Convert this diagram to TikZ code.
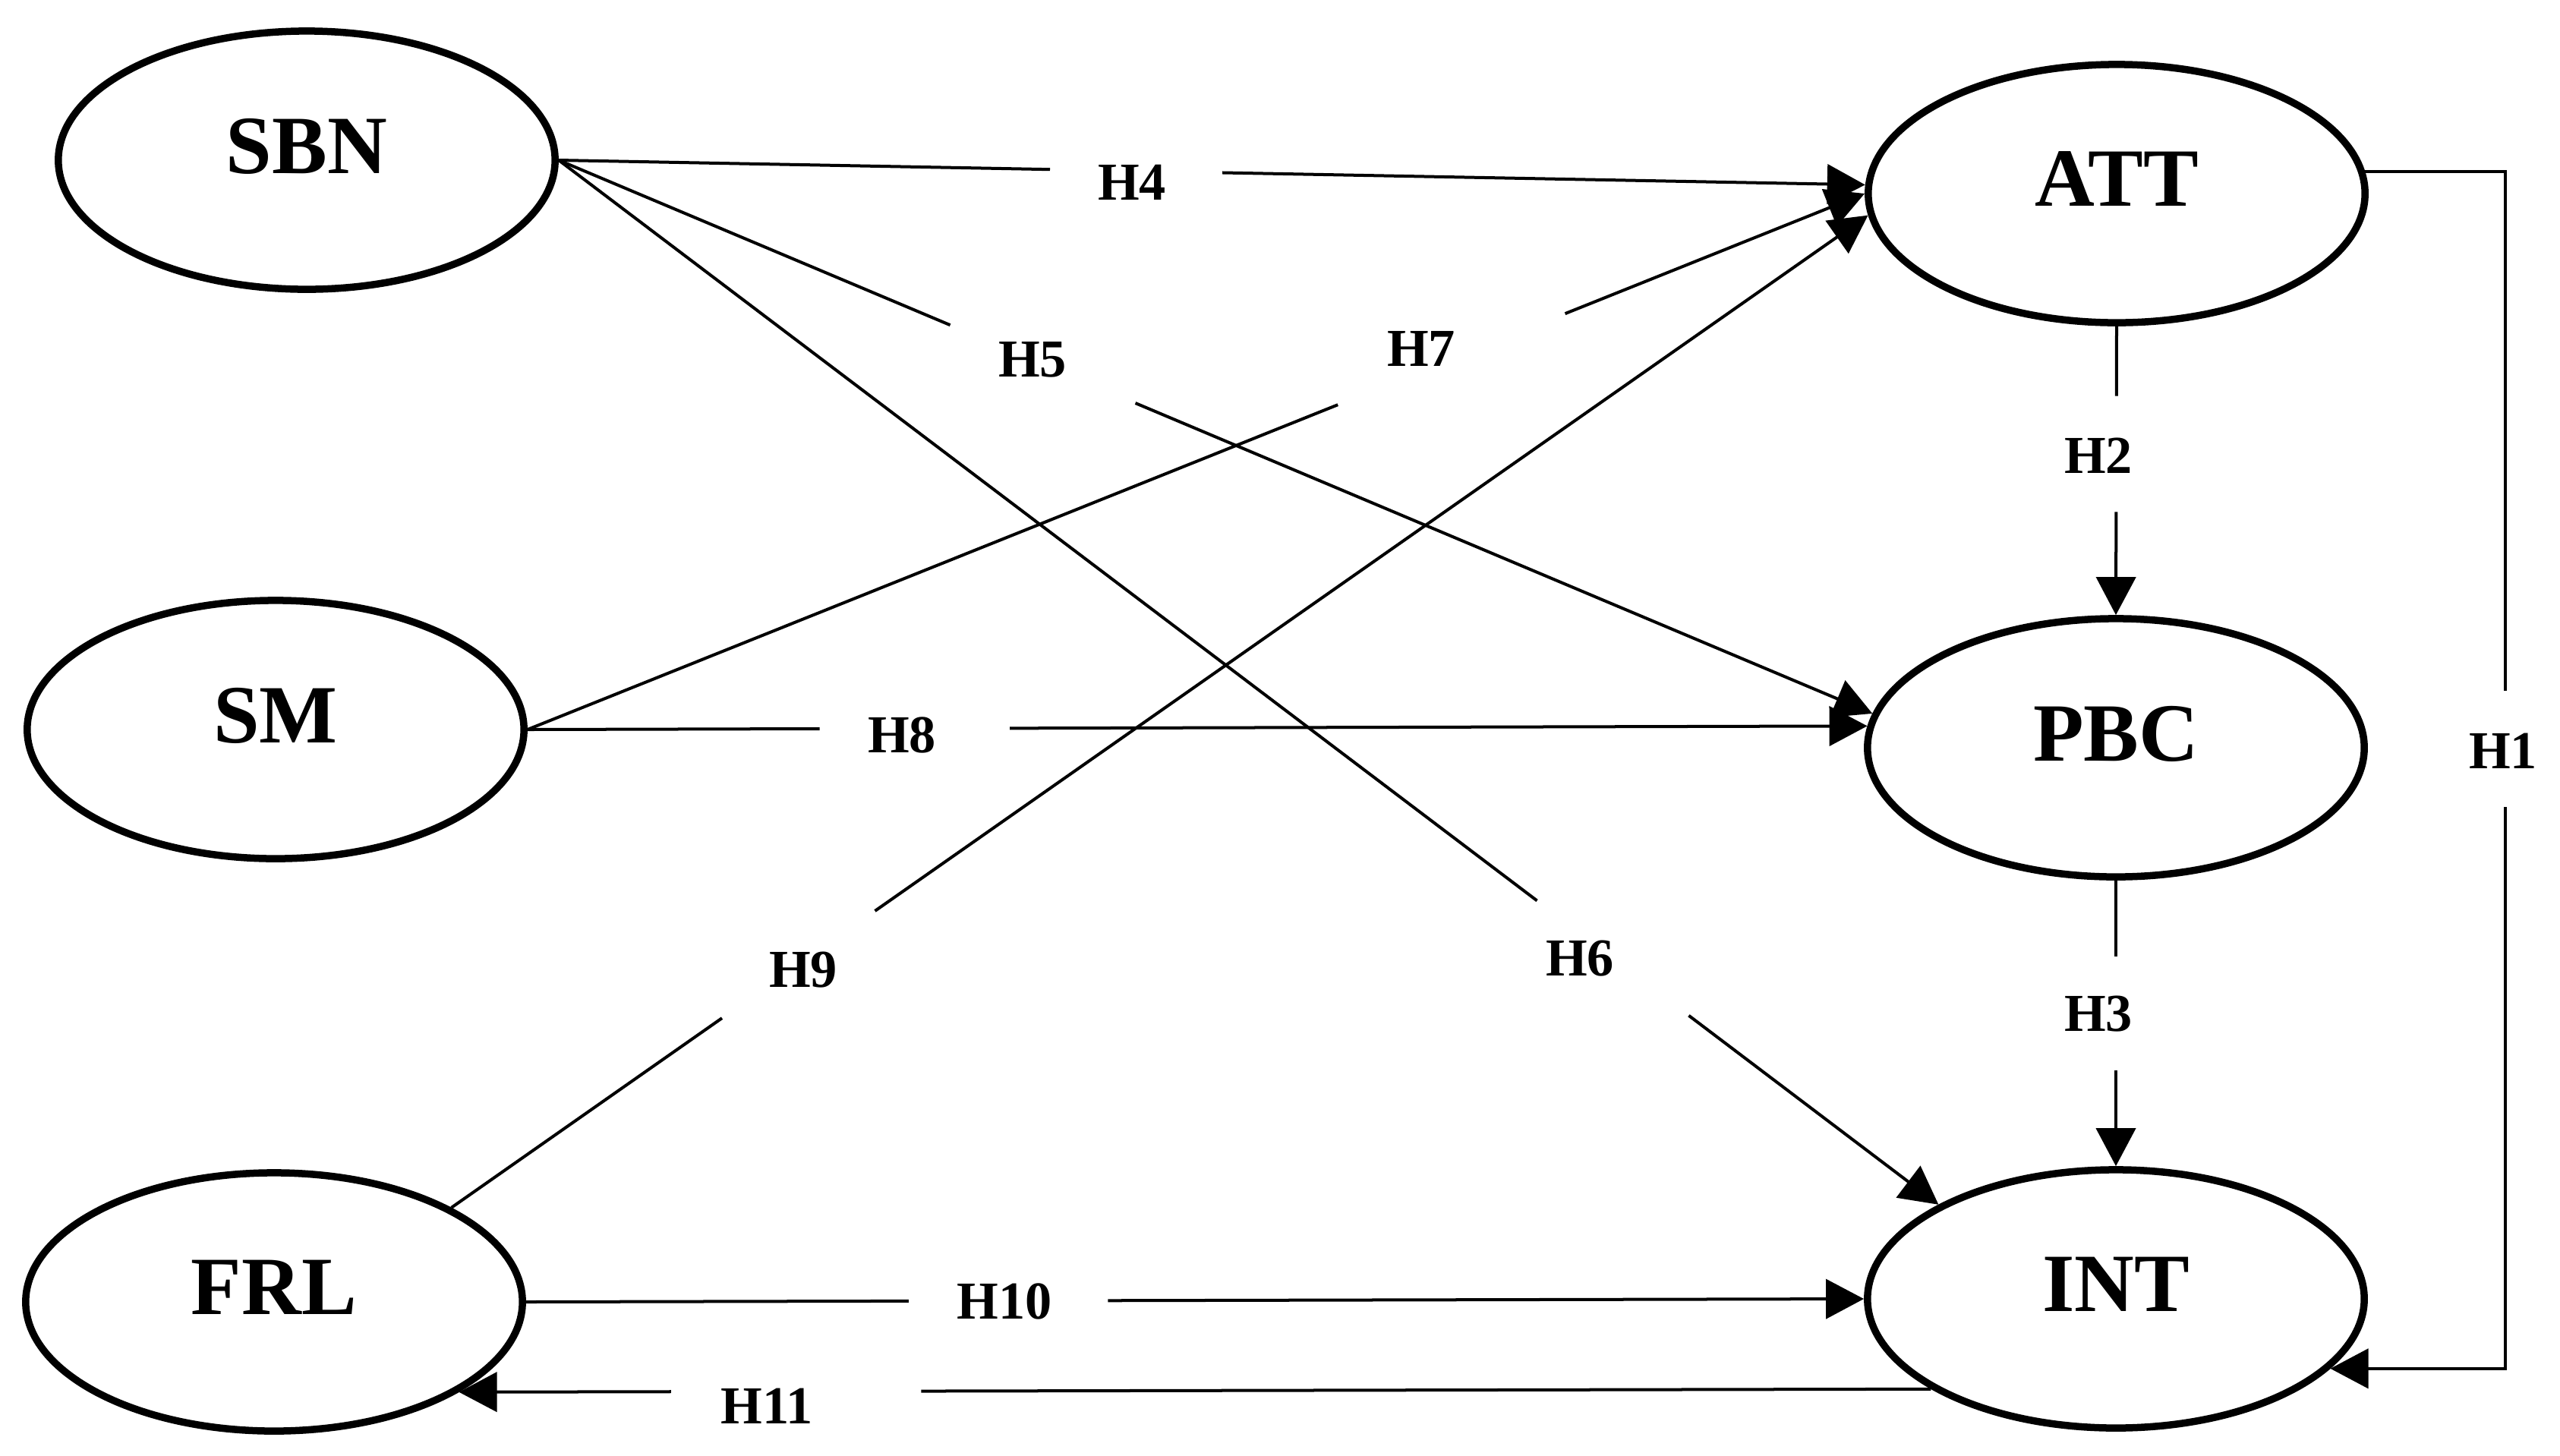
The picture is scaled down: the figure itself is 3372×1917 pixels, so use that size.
\documentclass[tikz,border=0pt]{standalone}
\usepackage{fontspec}
\setmainfont{Liberation Serif}
\usetikzlibrary{arrows.meta,shapes.geometric}
\begin{document}
\begin{tikzpicture}[x=0.01cm,y=-0.01cm,
  latent/.style={draw,ellipse,line width=0.095cm,minimum width=6.54cm,minimum height=3.40cm,inner sep=0pt,text depth=0.38cm,font=\fontsize{31}{31}\selectfont\bfseries},
  hyp/.style={inner sep=0pt,font=\fontsize{20}{20}\selectfont\bfseries},
  link/.style={line width=0.04cm},
  arr/.style={link,-{Triangle[length=0.5cm,width=0.52cm]}}]
\fill[white] (0,0) rectangle (3372,1917);
\useasboundingbox (0,0) rectangle (3372,1917);

% constructs
\node[latent] (SBN) at (404,211) {SBN};
\node[latent] (SM)  at (363,961) {SM};
\node[latent] (FRL) at (361,1715) {FRL};
\node[latent] (ATT) at (2788,255) {ATT};
\node[latent] (PBC) at (2787,985) {PBC};
\node[latent] (INT) at (2787,1711) {INT};

% hypothesis labels
\node[hyp] (L1)  at (3297,989)  {H1};
\node[hyp] (L2)  at (2764,600)  {H2};
\node[hyp] (L3)  at (2764,1336) {H3};
\node[hyp] (L4)  at (1491,240)  {H4};
\node[hyp] (L5)  at (1360,474)  {H5};
\node[hyp] (L6)  at (2081,1263) {H6};
\node[hyp] (L7)  at (1872,459)  {H7};
\node[hyp] (L8)  at (1188,968)  {H8};
\node[hyp] (L9)  at (1058,1278) {H9};
\node[hyp] (L10) at (1323,1714) {H10};
\node[hyp] (L11) at (1010,1852) {H11};

% gap points on each path
\path (SBN.east) -- (ATT.178) coordinate[pos=0.376] (h4a) coordinate[pos=0.508] (h4b);
\path (SBN.east) -- (PBC.172) coordinate[pos=0.298] (h5a) coordinate[pos=0.439] (h5b);
\path (SBN.east) -- (INT.152) coordinate[pos=0.709] (h6a) coordinate[pos=0.819] (h6b);
\path (SM.east) -- (ATT.180) coordinate[pos=0.606] (h7a) coordinate[pos=0.776] (h7b);
\path (SM.east) -- (PBC.175) coordinate[pos=0.218] (h8a) coordinate[pos=0.360] (h8b);
\path (FRL.28) -- (ATT.185) coordinate[pos=0.191] (h9a) coordinate[pos=0.299] (h9b);
\path (FRL.east) -- (INT.west) coordinate[pos=0.286] (h10a) coordinate[pos=0.435] (h10b);
\path (INT.206) -- (FRL.334) coordinate[pos=0.686] (h11a) coordinate[pos=0.856] (h11b);
\path (ATT.south) -- (PBC.north) coordinate[pos=0.241] (h2a) coordinate[pos=0.643] (h2b);
\path (PBC.south) -- (INT.north) coordinate[pos=0.265] (h3a) coordinate[pos=0.666] (h3b);
\coordinate (h1a) at (3300,910);
\coordinate (h1b) at (3300,1063);

% connectors
\draw[link] (SBN.east) -- (h4a);  \draw[arr] (h4b) -- (ATT.178);
\draw[link] (SBN.east) -- (h5a);  \draw[arr] (h5b) -- (PBC.172);
\draw[link] (SBN.east) -- (h6a);  \draw[arr] (h6b) -- (INT.152);
\draw[link] (SM.east) -- (h7a);   \draw[arr] (h7b) -- (ATT.180);
\draw[link] (SM.east) -- (h8a);   \draw[arr] (h8b) -- (PBC.175);
\draw[link] (FRL.28) -- (h9a);    \draw[arr] (h9b) -- (ATT.185);
\draw[link] (FRL.east) -- (h10a); \draw[arr] (h10b) -- (INT.west);
\draw[link] (INT.206) -- (h11a);  \draw[arr] (h11b) -- (FRL.334);
\draw[link] (ATT.south) -- (h2a); \draw[arr] (h2b) -- (PBC.north);
\draw[link] (PBC.south) -- (h3a); \draw[arr] (h3b) -- (INT.north);
\draw[link] (ATT.5) -| (h1a);     \draw[arr] (h1b) |- (INT.342);
\end{tikzpicture}
\end{document}
